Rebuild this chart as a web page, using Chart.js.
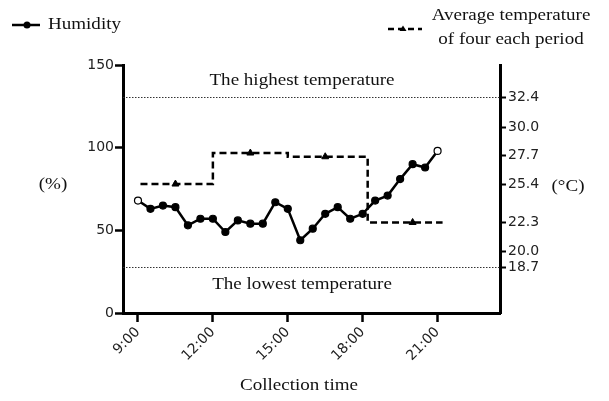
<!DOCTYPE html>
<html>
<head>
<meta charset="utf-8">
<script src="https://cdn.jsdelivr.net/npm/chart.js@4.4.1/dist/chart.umd.min.js"></script>
<style>
  html, body { margin: 0; padding: 0; background: #fff; }
  #wrap { width: 609px; height: 401px; position: relative; }
</style>
</head>
<body>
<div id="wrap"><canvas id="chart"></canvas></div>
<script>
// ── DATA ─────────────────────────────────────────────────────
var times = [9, 9.5, 10, 10.5, 11, 11.5, 12, 12.5, 13, 13.5, 14, 14.5, 15, 15.5, 16, 16.5, 17, 17.5, 18, 18.5, 19, 19.5, 20, 20.5, 21];
var humidity = [68, 63, 65, 64, 53, 57, 57, 49, 56, 54, 54, 67, 63, 44, 51, 60, 64, 57, 60, 68, 71, 81, 90, 88, 98];

var stepStarts = [9.1, 12, 15, 18.2];
var stepEnd = 21.2;
var stepTemps = [25.4, 27.9, 27.6, 22.3];
var markerTimes = [10.5, 13.5, 16.5, 20];

var xTicks = [9, 12, 15, 18, 21];
var humTicks = [0, 50, 100, 150];
var tempTicks = [18.7, 20.0, 22.3, 25.4, 27.7, 30.0, 32.4];
var highestTemp = 32.4;
var lowestTemp = 18.7;

// ── BUILD SERIES ─────────────────────────────────────────────
var humPoints = times.map(function (t, i) { return { x: t, y: humidity[i] }; });
var stepPoints = stepStarts.map(function (t, i) { return { x: t, y: stepTemps[i] }; });
stepPoints.push({ x: stepEnd, y: stepTemps[stepTemps.length - 1] });
var markerPoints = markerTimes.map(function (t, i) { return { x: t, y: stepTemps[i] }; });

var humFill = humidity.map(function (v, i) { return (i === 0 || i === humidity.length - 1) ? '#fff' : '#000'; });

// ── TEXT HELPER (source text is slightly wide) ───────────────
var SERIF = '17px "Liberation Serif", "Times New Roman", serif';
function sText(ctx, str, x, y, align) {
  ctx.save();
  ctx.translate(x, y);
  ctx.scale(1.12, 1);
  ctx.font = SERIF;
  ctx.fillStyle = '#111';
  ctx.textAlign = align || 'center';
  ctx.textBaseline = 'middle';
  ctx.fillText(str, 0, 0);
  ctx.restore();
}

// ── DECORATIONS PLUGIN ───────────────────────────────────────
var decor = {
  id: 'decor',
  beforeDatasetsDraw: function (chart) {
    var ctx = chart.ctx, a = chart.chartArea, y2 = chart.scales.y2;
    ctx.save();
    ctx.strokeStyle = '#333';
    ctx.lineWidth = 1;
    ctx.setLineDash([1.5, 1.5]);
    [highestTemp, lowestTemp].forEach(function (v) {
      var py = Math.round(y2.getPixelForValue(v)) + 0.5;
      ctx.beginPath();
      ctx.moveTo(a.left, py);
      ctx.lineTo(a.right, py);
      ctx.stroke();
    });
    ctx.restore();
  },
  afterDraw: function (chart) {
    var ctx = chart.ctx, y2 = chart.scales.y2;
    var hi = y2.getPixelForValue(highestTemp);
    var lo = y2.getPixelForValue(lowestTemp);
    sText(ctx, 'The highest temperature', 302, hi - 17);
    sText(ctx, 'The lowest temperature', 302, lo + 17);

    // axis titles
    sText(ctx, '(%)', 53, 185);
    sText(ctx, '(°C)', 568, 187);
    sText(ctx, 'Collection time', 299, 386);

    // legend: humidity
    ctx.save();
    ctx.strokeStyle = '#000';
    ctx.lineWidth = 2.5;
    ctx.beginPath(); ctx.moveTo(12, 25); ctx.lineTo(40, 25); ctx.stroke();
    ctx.fillStyle = '#000';
    ctx.beginPath(); ctx.arc(27, 25, 3.5, 0, Math.PI * 2); ctx.fill();
    ctx.restore();
    sText(ctx, 'Humidity', 48, 25, 'left');

    // legend: temperature
    ctx.save();
    ctx.strokeStyle = '#000';
    ctx.lineWidth = 2.5;
    ctx.setLineDash([6, 4]);
    ctx.beginPath(); ctx.moveTo(388, 29); ctx.lineTo(422, 29); ctx.stroke();
    ctx.setLineDash([]);
    ctx.fillStyle = '#000';
    ctx.beginPath();
    ctx.moveTo(403, 25.5); ctx.lineTo(406.5, 31); ctx.lineTo(399.5, 31); ctx.closePath();
    ctx.fill();
    ctx.restore();
    sText(ctx, 'Average temperature', 511, 16);
    sText(ctx, 'of four each period', 511, 40);
  }
};

// ── CHART ────────────────────────────────────────────────────
var TICK_FONT = { family: '"DejaVu Sans", sans-serif', size: 14 };

new Chart(document.getElementById('chart'), {
  type: 'line',
  data: {
    datasets: [
      {
        label: 'Humidity',
        data: humPoints,
        yAxisID: 'y',
        borderColor: '#000',
        borderWidth: 2.5,
        pointRadius: 3.5,
        pointBorderWidth: 1.2,
        pointBorderColor: '#000',
        pointBackgroundColor: humFill,
        tension: 0
      },
      {
        label: 'Average temperature of four each period',
        data: stepPoints,
        yAxisID: 'y2',
        stepped: 'before',
        borderColor: '#000',
        borderWidth: 2.5,
        borderDash: [7, 4],
        pointRadius: 0
      },
      {
        label: 'markers',
        data: markerPoints,
        yAxisID: 'y2',
        showLine: false,
        pointStyle: 'triangle',
        pointRadius: 4,
        pointBackgroundColor: '#000',
        pointBorderColor: '#000'
      }
    ]
  },
  options: {
    responsive: true,
    maintainAspectRatio: false,
    animation: false,
    devicePixelRatio: 1,
    layout: { padding: { top: 65, left: 0, right: 0, bottom: 0 } },
    plugins: { legend: { display: false }, tooltip: { enabled: false } },
    scales: {
      x: {
        type: 'linear',
        min: 8.4,
        max: 23.5,
        afterBuildTicks: function (s) { s.ticks = xTicks.map(function (v) { return { value: v }; }); },
        afterFit: function (s) { s.height = 88; },
        ticks: {
          autoSkip: false, minRotation: 45, maxRotation: 45, padding: 2,
          color: '#222', font: TICK_FONT,
          callback: function (v) { return v + ':00'; }
        },
        grid: { drawOnChartArea: false, tickLength: 9, tickWidth: 2.5, tickColor: '#000' },
        border: { color: '#000', width: 3 }
      },
      y: {
        position: 'left',
        min: 0,
        max: 150,
        afterBuildTicks: function (s) { s.ticks = humTicks.map(function (v) { return { value: v }; }); },
        afterFit: function (s) { s.width = 123; },
        ticks: { padding: 1, color: '#222', font: TICK_FONT },
        grid: { drawOnChartArea: false, tickLength: 8, tickWidth: 2.5, tickColor: '#000' },
        border: { color: '#000', width: 3 }
      },
      y2: {
        position: 'right',
        min: 15,
        max: 35,
        afterBuildTicks: function (s) { s.ticks = tempTicks.map(function (v) { return { value: v }; }); },
        afterFit: function (s) { s.width = 109; },
        ticks: {
          padding: 2, color: '#222', font: TICK_FONT,
          callback: function (v) { return Number(v).toFixed(1); }
        },
        grid: { drawOnChartArea: false, tickLength: 6, tickWidth: 2, tickColor: '#000' },
        border: { color: '#000', width: 3 }
      }
    }
  },
  plugins: [decor]
});
</script>
</body>
</html>
